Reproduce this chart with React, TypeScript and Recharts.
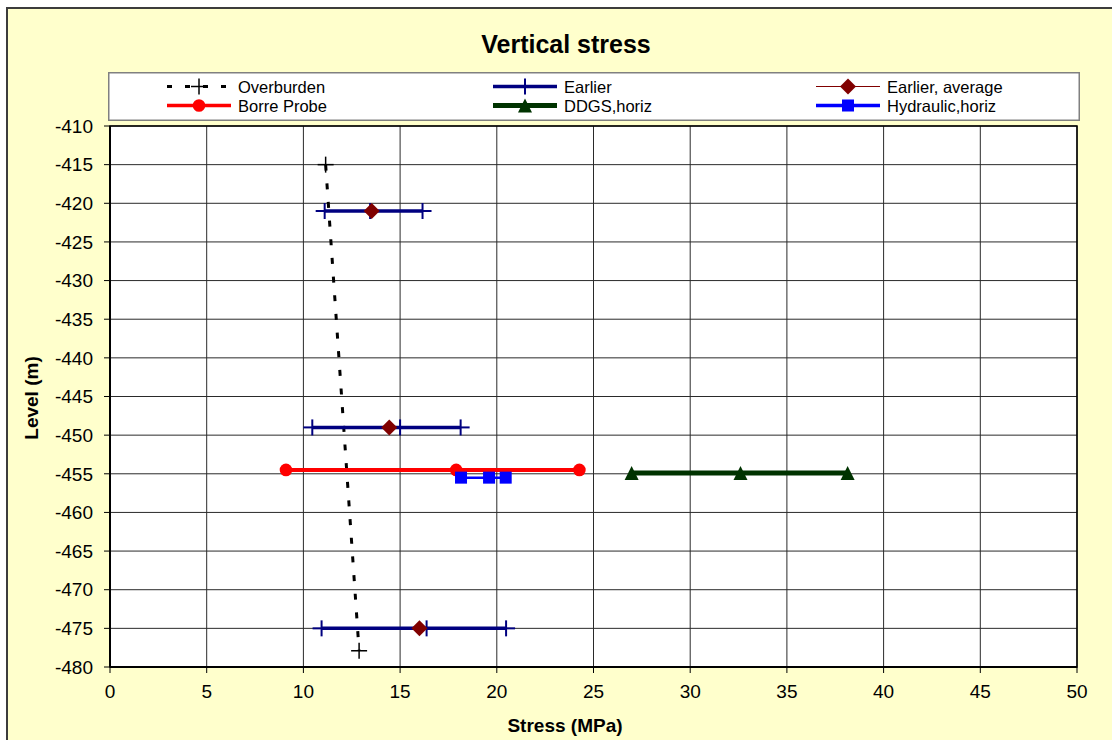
import React from 'react';
import { ScatterChart, Scatter, XAxis, YAxis, CartesianGrid, Legend, ReferenceArea } from 'recharts';

const FONT = '"Liberation Sans", Arial, sans-serif';

const xTicks = [0, 5, 10, 15, 20, 25, 30, 35, 40, 45, 50];
const yTicks = [-410, -415, -420, -425, -430, -435, -440, -445, -450, -455, -460, -465, -470, -475, -480];

const overburden = [
  { x: 11.15, y: -415 },
  { x: 12.88, y: -477.9 },
];

// earlier measurements, one bar per level
const earlier421 = [
  { x: 11.1, y: -421 },
  { x: 13.45, y: -421 },
  { x: 16.16, y: -421 },
];
const earlier449 = [
  { x: 10.46, y: -449 },
  { x: 15.0, y: -449 },
  { x: 18.13, y: -449 },
];
const earlier475 = [
  { x: 10.94, y: -475 },
  { x: 16.37, y: -475 },
  { x: 20.48, y: -475 },
];
const earlierAverage = [
  { x: 13.53, y: -421 },
  { x: 14.44, y: -449 },
  { x: 16.0, y: -475 },
];

const borreProbe = [
  { x: 9.1, y: -454.5 },
  { x: 17.9, y: -454.5 },
  { x: 24.27, y: -454.5 },
];
const ddgsHoriz = [
  { x: 26.97, y: -454.9 },
  { x: 32.6, y: -454.9 },
  { x: 38.14, y: -454.9 },
];
const hydraulicHoriz = [
  { x: 18.15, y: -455.5 },
  { x: 19.6, y: -455.5 },
  { x: 20.46, y: -455.5 },
];

const NAVY = '#000080';
const MAROON = '#800000';
const RED = '#FF0000';
const GREEN = '#003300';
const BLUE = '#0000FF';

const plusShape = (color: string, hw: number, vh: number, sw: number) => (p: any) => (
  <g>
    <line x1={p.cx - hw} x2={p.cx + hw} y1={p.cy} y2={p.cy} stroke={color} strokeWidth={sw} />
    <line x1={p.cx} x2={p.cx} y1={p.cy - vh} y2={p.cy + vh} stroke={color} strokeWidth={sw} />
  </g>
);
const diamondShape = (color: string) => (p: any) => (
  <polygon points={`${p.cx},${p.cy - 8} ${p.cx + 8},${p.cy} ${p.cx},${p.cy + 8} ${p.cx - 8},${p.cy}`} fill={color} />
);
const circleShape = (color: string) => (p: any) => <circle cx={p.cx} cy={p.cy} r={6.3} fill={color} />;
const squareShape = (color: string) => (p: any) => <rect x={p.cx - 6} y={p.cy - 6} width={12} height={12} fill={color} />;
const triangleShape = (color: string) => (p: any) => (
  <polygon points={`${p.cx},${p.cy - 7} ${p.cx + 7},${p.cy + 7} ${p.cx - 7},${p.cy + 7}`} fill={color} />
);

const legendItems = [
  { name: 'Overburden', col: 0, row: 0, color: '#000', width: 3, dash: '5 13', marker: plusShape('#000', 8, 8, 1.5) },
  { name: 'Earlier', col: 1, row: 0, color: NAVY, width: 3.5, dash: undefined, marker: plusShape(NAVY, 0, 8, 2) },
  { name: 'Earlier, average', col: 2, row: 0, color: MAROON, width: 1.2, dash: undefined, marker: diamondShape(MAROON) },
  { name: 'Borre Probe', col: 0, row: 1, color: RED, width: 3.5, dash: undefined, marker: circleShape(RED) },
  { name: 'DDGS,horiz', col: 1, row: 1, color: GREEN, width: 5, dash: undefined, marker: triangleShape(GREEN) },
  { name: 'Hydraulic,horiz', col: 2, row: 1, color: BLUE, width: 3.5, dash: undefined, marker: squareShape(BLUE) },
];

const colX = [59, 385, 708];
const rowY = [14.5, 33.5];

const LegendBox = () => (
  <svg width={972} height={49} style={{ display: 'block' }}>
    <rect x={0.75} y={0.75} width={970.5} height={47.5} fill="#FFFFFF" stroke="#808080" strokeWidth={1.5} />
    {legendItems.map((it) => {
      const x = colX[it.col];
      const y = rowY[it.row];
      return (
        <g key={it.name}>
          <line x1={x} x2={x + 64} y1={y} y2={y} stroke={it.color} strokeWidth={it.width} strokeDasharray={it.dash} />
          {it.marker({ cx: x + 32, cy: y })}
          <text x={x + 71} y={y + 6} fontSize={16.5} fontFamily={FONT} fill="#000">
            {it.name}
          </text>
        </g>
      );
    })}
  </svg>
);

export default function App() {
  return (
    <div style={{ position: 'absolute', left: 0, top: 0, width: 1112, height: 740, overflow: 'hidden', background: '#FFFFFF', fontFamily: FONT }}>
      <div style={{ position: 'absolute', left: 6, top: 7, width: 1200, height: 800, background: '#FFFFCC', border: '2px solid #3c3c3c' }} />
      <div style={{ position: 'absolute', left: 0, top: 0 }}>
        <ScatterChart width={1112} height={740} margin={{ top: 126, right: 35, bottom: 0, left: 0 }}>
          <text x={566} y={53} textAnchor="middle" fontSize={25} fontWeight="bold" fontFamily={FONT} fill="#000">
            Vertical stress
          </text>
          <CartesianGrid fill="#FFFFFF" stroke="#2a2a2a" strokeWidth={1} horizontalValues={yTicks} verticalValues={xTicks} />
          <XAxis
            type="number"
            dataKey="x"
            domain={[0, 50]}
            ticks={xTicks}
            allowDataOverflow
            height={73}
            tickSize={6}
            tickMargin={12}
            tick={{ fill: '#000', fontSize: 19, fontFamily: FONT }}
            tickLine={{ stroke: '#000' }}
            axisLine={{ stroke: '#000', strokeWidth: 2 }}
            label={{
              content: () => (
                <text x={565} y={732} textAnchor="middle" fontSize={19} fontWeight="bold" fontFamily={FONT} fill="#000">
                  Stress (MPa)
                </text>
              ),
            }}
          />
          <YAxis
            type="number"
            dataKey="y"
            domain={[-480, -410]}
            ticks={yTicks}
            allowDataOverflow
            width={110}
            tickSize={6}
            tickMargin={11}
            tick={{ fill: '#000', fontSize: 19, fontFamily: FONT }}
            tickLine={{ stroke: '#000' }}
            axisLine={{ stroke: '#000', strokeWidth: 2 }}
            label={{
              content: () => (
                <text x={38} y={398} transform="rotate(-90 38 398)" textAnchor="middle" fontSize={19} fontWeight="bold" fontFamily={FONT} fill="#000">
                  Level (m)
                </text>
              ),
            }}
          />
          <ReferenceArea x1={0} x2={50} y1={-480} y2={-410} fill="none" stroke="#000" strokeWidth={1.5} />
          <Legend
            layout="horizontal"
            verticalAlign="middle"
            align="center"
            content={() => <LegendBox />}
            wrapperStyle={{ left: 108, top: 72, width: 972, height: 49 }}
          />
          <Scatter name="Overburden" data={overburden} fill="#000" line={{ stroke: '#000', strokeWidth: 3, strokeDasharray: '6 12.7' }} shape={plusShape('#000', 8, 8, 1.5)} isAnimationActive={false} />
          <Scatter name="Earlier" data={earlier421} fill={NAVY} line={{ stroke: NAVY, strokeWidth: 3.5 }} shape={plusShape(NAVY, 9, 8, 2)} isAnimationActive={false} />
          <Scatter name="Earlier 449" data={earlier449} fill={NAVY} line={{ stroke: NAVY, strokeWidth: 3.5 }} shape={plusShape(NAVY, 9, 8, 2)} legendType="none" isAnimationActive={false} />
          <Scatter name="Earlier 475" data={earlier475} fill={NAVY} line={{ stroke: NAVY, strokeWidth: 3.5 }} shape={plusShape(NAVY, 9, 8, 2)} legendType="none" isAnimationActive={false} />
          <Scatter name="Earlier, average" data={earlierAverage} fill={MAROON} shape={diamondShape(MAROON)} isAnimationActive={false} />
          <Scatter name="Borre Probe" data={borreProbe} fill={RED} line={{ stroke: RED, strokeWidth: 4 }} shape={circleShape(RED)} isAnimationActive={false} />
          <Scatter name="DDGS,horiz" data={ddgsHoriz} fill={GREEN} line={{ stroke: GREEN, strokeWidth: 5 }} shape={triangleShape(GREEN)} isAnimationActive={false} />
          <Scatter name="Hydraulic,horiz" data={hydraulicHoriz} fill={BLUE} line={{ stroke: BLUE, strokeWidth: 2.5 }} shape={squareShape(BLUE)} isAnimationActive={false} />
        </ScatterChart>
      </div>
    </div>
  );
}
